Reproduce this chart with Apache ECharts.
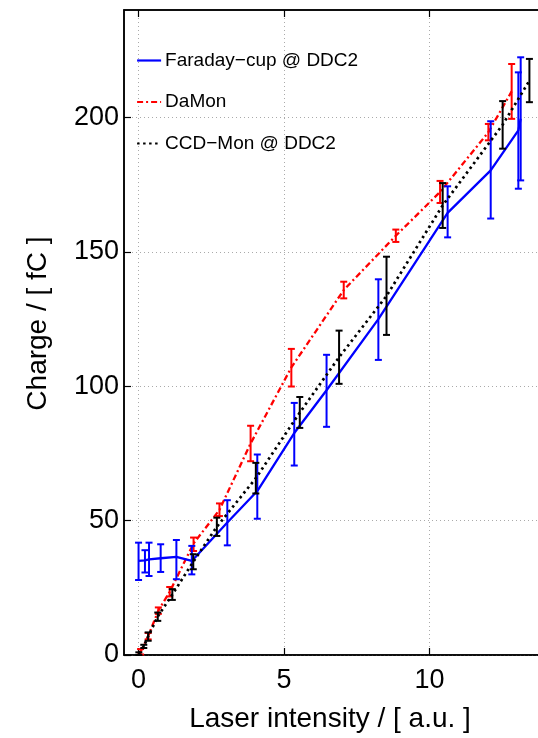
<!DOCTYPE html>
<html>
<head>
<meta charset="utf-8">
<script src="https://cdn.jsdelivr.net/npm/echarts@6/dist/echarts.min.js"></script>
<style>
html,body{margin:0;padding:0;background:#fff;overflow:hidden;width:538px;height:738px;}
#c{width:546px;height:738px;}
</style>
</head>
<body>
<div id="c"></div>
<script>
// ---- data ----
const xTicks = [0, 5, 10];
const yTicks = [0, 50, 100, 150, 200];

const fcName = 'Faraday\u2212cup @ DDC2';
const fcX    = [0.00, 0.22, 0.36, 0.76, 1.30, 1.83, 3.05, 4.08, 5.35, 6.46, 8.24, 10.62, 12.10, 13.05, 13.13];
const fcY    = [35.0, 35.2, 35.6, 36.0, 36.5, 35.0, 49.3, 61.0, 82.6, 98.5, 125.0, 164.5, 180.3, 195.2, 199.5];
const fcLow  = [27.9, 30.7, 29.4, 30.9, 28.2, 30.0, 40.8, 50.7, 70.5, 84.9, 109.8, 155.4, 162.4, 173.5, 176.6];
const fcHigh = [41.8, 39.0, 41.8, 41.2, 42.8, 40.6, 57.6, 74.6, 93.8, 111.7, 139.8, 174.4, 198.6, 216.8, 222.4];

const dmName = 'DaMon';
const dmX    = [0.07, 0.33, 0.68, 1.07, 1.89, 2.78, 3.85, 5.25, 7.05, 8.84, 10.36, 12.02, 12.82];
const dmY    = [1.2, 7.0, 16.5, 23.5, 41.5, 54.0, 78.7, 107.0, 135.8, 156.0, 172.3, 194.5, 209.7];
const dmLow  = [0.2, 5.8, 15.3, 21.8, 38.7, 51.7, 72.1, 99.9, 132.7, 153.7, 168.2, 191.5, 199.5];
const dmHigh = [2.2, 8.2, 17.7, 25.3, 43.7, 56.4, 85.3, 113.9, 138.9, 158.3, 176.4, 197.6, 219.9];

const ccName = 'CCD\u2212Mon @ DDC2';
const ccX    = [0.01, 0.18, 0.33, 0.66, 1.16, 1.88, 2.69, 4.03, 5.54, 6.89, 8.52, 10.45, 12.51, 13.43];
const ccY    = [0.5, 3.2, 6.9, 14.3, 22.5, 34.7, 47.7, 65.8, 90.2, 110.8, 133.6, 167.3, 197.3, 213.7];
const ccLow  = [0.0, 2.6, 5.3, 12.7, 20.5, 31.9, 44.3, 60.1, 84.5, 100.9, 119.1, 158.9, 188.4, 205.7];
const ccHigh = [1.0, 3.8, 8.4, 15.8, 24.5, 37.5, 51.1, 71.5, 96.0, 120.7, 148.2, 175.6, 206.1, 221.8];

const xTitle = 'Laser intensity / [ a.u. ]';
const yTitle = 'Charge / [ fC ]';

// ---- helpers ----
const FONT = '"Liberation Sans", Arial, Helvetica, sans-serif';
function pts(xs, ys) { return xs.map((x, i) => [x, ys[i]]); }
function errData(xs, lo, hi) { return xs.map((x, i) => [x, lo[i], hi[i]]); }
function errSeries(name, xs, lo, hi, color, z) {
  return {
    name: name, type: 'custom', z: z,
    data: errData(xs, lo, hi),
    encode: { x: 0, y: [1, 2] },
    silent: true,
    renderItem: function (params, api) {
      const x = api.value(0);
      const a = api.coord([x, api.value(1)]);
      const b = api.coord([x, api.value(2)]);
      const w = 3.5;
      const st = { stroke: color, lineWidth: 2 };
      return {
        type: 'group',
        children: [
          { type: 'line', shape: { x1: a[0], y1: a[1], x2: b[0], y2: b[1] }, style: st },
          { type: 'line', shape: { x1: a[0] - w, y1: a[1], x2: a[0] + w, y2: a[1] }, style: st },
          { type: 'line', shape: { x1: b[0] - w, y1: b[1], x2: b[0] + w, y2: b[1] }, style: st }
        ]
      };
    }
  };
}

const chart = echarts.init(document.getElementById('c'), null, { renderer: 'canvas' });
const option = {
  animation: false,
  backgroundColor: '#ffffff',
  textStyle: { fontFamily: FONT },
  grid: {
    left: 124, right: 0, top: 10, bottom: 82,
    show: true, borderColor: '#000', borderWidth: 1.5, backgroundColor: 'transparent'
  },
  legend: {
    data: [fcName, dmName, ccName],
    orient: 'vertical',
    left: 131, top: 46,
    itemWidth: 24, itemHeight: 14, itemGap: 22.5,
    itemStyle: { opacity: 0, borderWidth: 0 },
    lineStyle: { width: 2.2 },
    textStyle: { fontSize: 19, color: '#000', fontFamily: FONT, padding: [0, 0, 0, -1] },
    selectedMode: false
  },
  xAxis: [{
    type: 'value', min: -0.5, max: 14,
    axisLine: { show: true, onZero: false, lineStyle: { color: '#000', width: 1.5 } },
    axisTick: { show: true, inside: true, length: 7, customValues: xTicks, lineStyle: { color: '#000', width: 1.2 } },
    axisLabel: { customValues: xTicks, fontSize: 27, color: '#000', fontFamily: FONT, margin: 12 },
    splitLine: { show: true, lineStyle: { color: '#aaaaaa', type: [1, 3], width: 1 } },
    name: xTitle, nameLocation: 'middle', nameGap: 50,
    nameTextStyle: { fontSize: 28, color: '#000', fontFamily: FONT, padding: [0, 10, 0, 0] }
  }, {
    type: 'value', position: 'top', min: -0.5, max: 14,
    axisLine: { show: true, onZero: false, lineStyle: { color: '#000', width: 1.5 } },
    axisTick: { show: true, inside: true, length: 7, customValues: xTicks, lineStyle: { color: '#000', width: 1.2 } },
    axisLabel: { show: false },
    splitLine: { show: false }
  }],
  yAxis: {
    type: 'value', min: 0, max: 240,
    axisLine: { show: true, onZero: false, lineStyle: { color: '#000', width: 1.5 } },
    axisTick: { show: true, inside: true, length: 7, customValues: yTicks, lineStyle: { color: '#000', width: 1.2 } },
    axisLabel: { customValues: yTicks, fontSize: 27, color: '#000', fontFamily: FONT, margin: 5 },
    splitLine: { show: true, lineStyle: { color: '#aaaaaa', type: [1, 3], width: 1 } },
    name: yTitle, nameLocation: 'middle', nameGap: 72,
    nameTextStyle: { fontSize: 28, color: '#000', fontFamily: FONT, padding: [0, 0, 0, 18] }
  },
  series: [
    {
      name: fcName, type: 'line', data: pts(fcX, fcY), showSymbol: false, symbol: 'none', z: 5,
      lineStyle: { color: '#0000ff', width: 2.3, type: 'solid' }, itemStyle: { color: '#0000ff' }
    },
    {
      name: dmName, type: 'line', data: pts(dmX, dmY), showSymbol: false, symbol: 'none', z: 4,
      lineStyle: { color: '#ff0000', width: 2.3, type: [6, 3, 2, 3] }, itemStyle: { color: '#ff0000' }
    },
    {
      name: ccName, type: 'line', data: pts(ccX, ccY), showSymbol: false, symbol: 'none', z: 6,
      lineStyle: { color: '#000000', width: 2.7, type: [2.5, 3.5] }, itemStyle: { color: '#000' }
    },
    errSeries('fcErr', fcX, fcLow, fcHigh, '#0000ff', 5),
    errSeries('dmErr', dmX, dmLow, dmHigh, '#ff0000', 4),
    errSeries('ccErr', ccX, ccLow, ccHigh, '#000000', 6)
  ]
};
chart.setOption(option);
</script>
</body>
</html>
